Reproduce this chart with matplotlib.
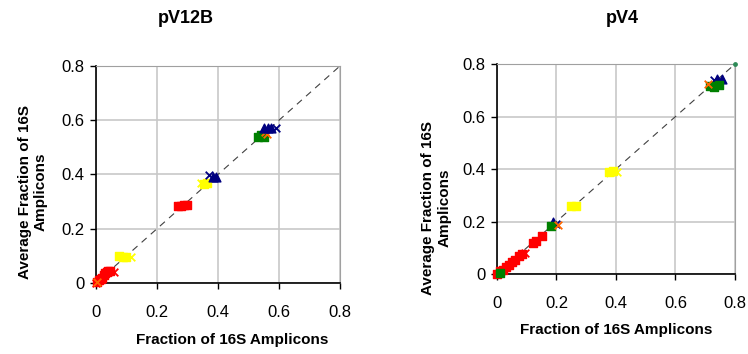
import matplotlib
matplotlib.use("Agg")
import matplotlib.pyplot as plt

plt.rcParams['font.family'] = ['Liberation Sans', 'DejaVu Sans']

# ---- data (x = fraction, y = average fraction) ----
# pV12B
v12_red_sq_x = [0.005, 0.01, 0.015, 0.02, 0.025, 0.03, 0.035, 0.04, 0.045, 0.27, 0.28, 0.29, 0.30]
v12_red_sq_y = [0.005, 0.01, 0.015, 0.02, 0.03, 0.035, 0.04, 0.045, 0.045, 0.285, 0.285, 0.287, 0.288]
v12_red_x_x = [0.06, 0.0]
v12_red_x_y = [0.04, 0.0]
v12_yel_sq_x = [0.075, 0.09, 0.1, 0.355, 0.365]
v12_yel_sq_y = [0.098, 0.097, 0.096, 0.365, 0.37]
v12_yel_x_x = [0.115, 0.345]
v12_yel_x_y = [0.097, 0.37]
v12_blue_tri_x = [0.385, 0.395, 0.55, 0.565, 0.575]
v12_blue_tri_y = [0.39, 0.39, 0.57, 0.572, 0.572]
v12_blue_x_x = [0.37, 0.59]
v12_blue_x_y = [0.398, 0.572]
v12_green_sq_x = [0.53, 0.54, 0.55]
v12_green_sq_y = [0.54, 0.545, 0.54]
v12_orange_x_x = [0.005, 0.555, 0.56]
v12_orange_x_y = [0.005, 0.555, 0.548]

# pV4
v4_red_sq_x = [0.0, 0.01, 0.02, 0.03, 0.04, 0.05, 0.06, 0.075, 0.085, 0.12, 0.13, 0.15]
v4_red_sq_y = [0.0, 0.01, 0.015, 0.025, 0.035, 0.045, 0.055, 0.07, 0.075, 0.12, 0.125, 0.145]
v4_red_x_x = [0.095]
v4_red_x_y = [0.08]
v4_yel_sq_x = [0.25, 0.265, 0.375, 0.39]
v4_yel_sq_y = [0.26, 0.26, 0.39, 0.392]
v4_yel_x_x = [0.405]
v4_yel_x_y = [0.39]
v4_blue_tri_x = [0.19, 0.74, 0.755]
v4_blue_tri_y = [0.197, 0.745, 0.745]
v4_blue_x_x = [0.2, 0.73]
v4_blue_x_y = [0.19, 0.74]
v4_green_sq_x = [0.18, 0.715, 0.73, 0.745, 0.01]
v4_green_sq_y = [0.183, 0.715, 0.713, 0.72, 0.005]
v4_green_dot_x = [0.8]
v4_green_dot_y = [0.8]
v4_orange_x_x = [0.205, 0.71]
v4_orange_x_y = [0.185, 0.725]

ticks = [0, 0.2, 0.4, 0.6, 0.8]
ticklabels = ['0', '0.2', '0.4', '0.6', '0.8']

panels = [
    dict(title="pV12B", pos=[0.1283, 0.2006, 0.3262, 0.613], title_x=0.248,
         xlab=(0.56, -0.263), ylab=(-0.258, 0.419),
         series=[(v12_red_sq_x, v12_red_sq_y, 'red', 's'),
                 (v12_red_x_x, v12_red_x_y, 'red', 'x'),
                 (v12_yel_sq_x, v12_yel_sq_y, 'yellow', 's'),
                 (v12_yel_x_x, v12_yel_x_y, 'yellow', 'x'),
                 (v12_green_sq_x, v12_green_sq_y, 'green', 's'),
                 (v12_orange_x_x, v12_orange_x_y, '#ff6600', 'x'),
                 (v12_blue_tri_x, v12_blue_tri_y, 'navy', '^'),
                 (v12_blue_x_x, v12_blue_x_y, 'navy', 'x')]),
    dict(title="pV4", pos=[0.6644, 0.226, 0.3182, 0.593], title_x=0.832,
         xlab=(0.5, -0.267), ylab=(-0.256, 0.314),
         series=[(v4_red_sq_x, v4_red_sq_y, 'red', 's'),
                 (v4_red_x_x, v4_red_x_y, 'red', 'x'),
                 (v4_yel_sq_x, v4_yel_sq_y, 'yellow', 's'),
                 (v4_yel_x_x, v4_yel_x_y, 'yellow', 'x'),
                 (v4_blue_tri_x, v4_blue_tri_y, 'navy', '^'),
                 (v4_blue_x_x, v4_blue_x_y, 'navy', 'x'),
                 (v4_green_sq_x, v4_green_sq_y, 'green', 's'),
                 (v4_green_dot_x, v4_green_dot_y, '#2e8b57', '.'),
                 (v4_orange_x_x, v4_orange_x_y, '#ff6600', 'x')]),
]

fig = plt.figure(figsize=(7.48, 3.54), dpi=100)

for p in panels:
    ax = fig.add_axes(p['pos'])
    ax.set_xlim(0, 0.8)
    ax.set_ylim(0, 0.8)
    ax.set_xticks(ticks)
    ax.set_yticks(ticks)
    ax.set_xticklabels(ticklabels, fontsize=12)
    ax.set_yticklabels(ticklabels, fontsize=12)
    ax.grid(True, color='#c8c8c8', linewidth=1.2)
    ax.set_axisbelow(True)
    ax.tick_params(direction='out', length=4, width=1)
    ax.tick_params(axis='x', pad=12)
    ax.tick_params(axis='y', pad=4)
    for s in ['top', 'right']:
        ax.spines[s].set_color('#a0a0a0')
    for s in ['left', 'bottom']:
        ax.spines[s].set_color('black')
        ax.spines[s].set_linewidth(1.2)
    ax.plot([0, 0.8], [0, 0.8], linestyle=(0, (6, 5)), color='#404040',
            linewidth=0.8, zorder=1)
    for xs, ys, c, m in p['series']:
        if m == 'x':
            ax.scatter(xs, ys, marker='x', s=30, color=c, linewidths=1.3,
                       zorder=3, clip_on=False)
        elif m == '.':
            ax.scatter(xs, ys, marker='o', s=6, color=c, zorder=3, clip_on=False)
        else:
            ax.scatter(xs, ys, marker=m, s=40, color=c, edgecolors=c,
                       zorder=3, clip_on=False)
    ax.set_xlabel('Fraction of 16S Amplicons', fontsize=11, fontweight='bold',
                  va='center')
    ax.xaxis.set_label_coords(*p['xlab'])
    ax.set_ylabel('Average Fraction of 16S\nAmplicons', fontsize=11,
                  fontweight='bold', va='center', ha='center', ma='center')
    ax.yaxis.set_label_coords(*p['ylab'])
    fig.text(p['title_x'], 0.949, p['title'], fontsize=13, fontweight='bold',
             ha='center', va='center')

fig.savefig('out.png', dpi=100)
